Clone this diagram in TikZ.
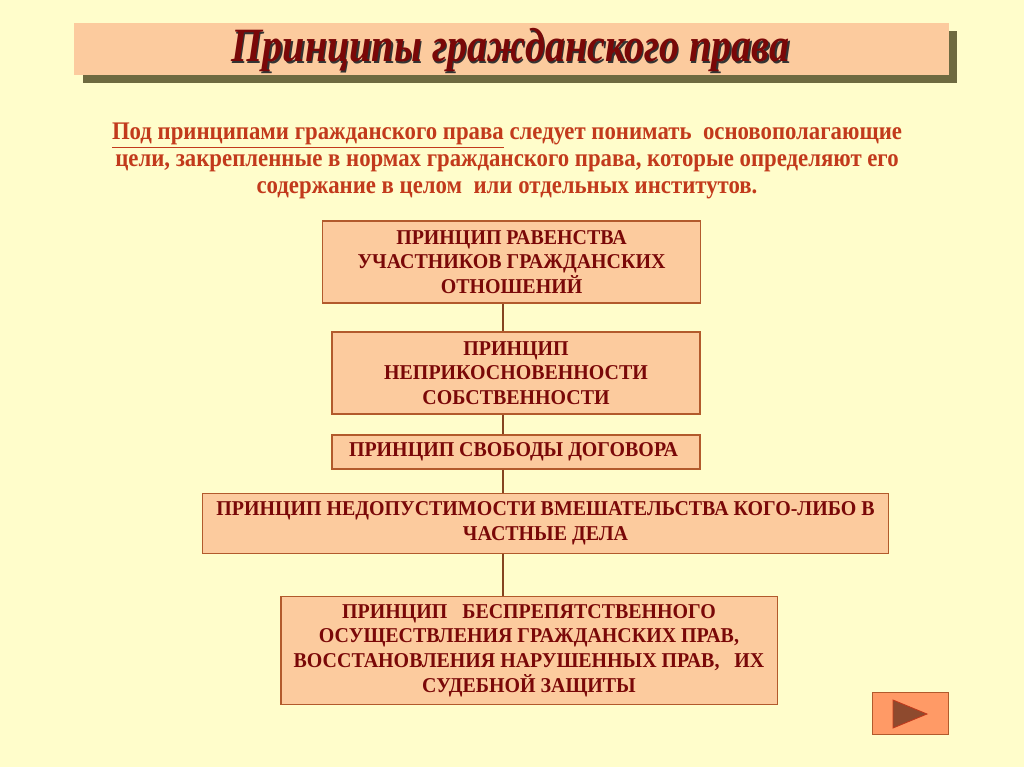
\documentclass[tikz,border=0pt]{standalone}
\usepackage{fontspec}
\setmainfont{Liberation Serif}
\newfontfamily\headfont[FakeStretch=0.84]{Liberation Serif}
\newfontfamily\leadfont[FakeStretch=0.9]{Liberation Serif}
\newfontfamily\boxfont[FakeStretch=0.945]{Liberation Serif}
\definecolor{paper}{HTML}{FFFDCB}
\definecolor{peach}{HTML}{FCCB9E}
\definecolor{edgebrown}{HTML}{B25A2C}
\definecolor{darkred}{HTML}{7A0808}
\definecolor{rust}{HTML}{C23A1C}
\definecolor{olive}{HTML}{6E6A40}
\definecolor{navfill}{HTML}{FF9A66}
\definecolor{navtri}{HTML}{8E4A2E}

\begin{document}
\begin{tikzpicture}[x=0.025cm, y=-0.025cm,
    principle/.style={draw=edgebrown, fill=peach, line width=0.8pt, text=darkred,
        font=\boxfont\bfseries\fontsize{15}{17.5}\selectfont, align=center, inner sep=0pt},
    link/.style={draw=edgebrown!75!black, line width=0.8pt}]

            \fill[paper] (0, 0) rectangle (1024, 767);

            % title bar with its shadow
            \fill[olive] (83, 31) rectangle (957, 83);
            \node[fill=peach, minimum width=21.875cm, minimum height=1.3cm, inner sep=0pt] (head) at (511.5, 49) {};
            \node[text=black!80, font=\headfont\bfseries\itshape\fontsize{34}{34}\selectfont] (headshade) at (512, 52) { Принципы гражданского права };
            \node[text=darkred, font=\headfont\bfseries\itshape\fontsize{34}{34}\selectfont] (headtext) at (510.5, 50.5) { Принципы гражданского права };

            \node[text=rust, font=\leadfont\bfseries\fontsize{18}{19.2}\selectfont, align=center] (defn) at (507, 161) {
                \underline{Под принципами гражданского права} следует понимать\ \ основополагающие\\
                цели, закрепленные в нормах гражданского права, которые определяют его\\
                содержание в целом\ \ или отдельных институтов. };

            \node[principle, minimum width=9.43cm, minimum height=2.05cm] (p1) at (511.5, 262) { ПРИНЦИП РАВЕНСТВА\\ УЧАСТНИКОВ ГРАЖДАНСКИХ\\ ОТНОШЕНИЙ };
            \node[principle, minimum width=9.2cm, minimum height=2.05cm] (p2) at (516, 373) { ПРИНЦИП\\ НЕПРИКОСНОВЕННОСТИ\\ СОБСТВЕННОСТИ };
            \node[principle, minimum width=9.2cm, minimum height=0.85cm] (p3) at (516, 452) { ПРИНЦИП СВОБОДЫ ДОГОВОРА };
            \node[principle, minimum width=17.13cm, minimum height=1.48cm] (p4) at (545.5, 523.5) { ПРИНЦИП НЕДОПУСТИМОСТИ ВМЕШАТЕЛЬСТВА КОГО-ЛИБО В\\ ЧАСТНЫЕ ДЕЛА };
            \node[principle, minimum width=12.4cm, minimum height=2.68cm] (p5) at (529, 650.5) { ПРИНЦИП\ \ \ БЕСПРЕПЯТСТВЕННОГО\\ ОСУЩЕСТВЛЕНИЯ ГРАЖДАНСКИХ ПРАВ,\\ ВОССТАНОВЛЕНИЯ НАРУШЕННЫХ ПРАВ,\ \ \ ИХ\\ СУДЕБНОЙ ЗАЩИТЫ };

            \coordinate (spine) at (503, 0);
            \draw[link] (p1.south -| spine) -- (p2.north -| spine);
            \draw[link] (p2.south -| spine) -- (p3.north -| spine);
            \draw[link] (p3.south -| spine) -- (p4.north -| spine);
            \draw[link] (p4.south -| spine) -- (p5.north -| spine);

            % next-slide button
            \node[fill=navfill, draw=edgebrown, line width=0.6pt, minimum width=1.9cm, minimum height=1.05cm, inner sep=0pt] (next) at (910, 713) {};
            \filldraw[fill=navtri, draw=rust, line width=0.6pt] (893, 700) -- (893, 728) -- (927, 714) -- cycle;

        \end{tikzpicture}
\end{document}
